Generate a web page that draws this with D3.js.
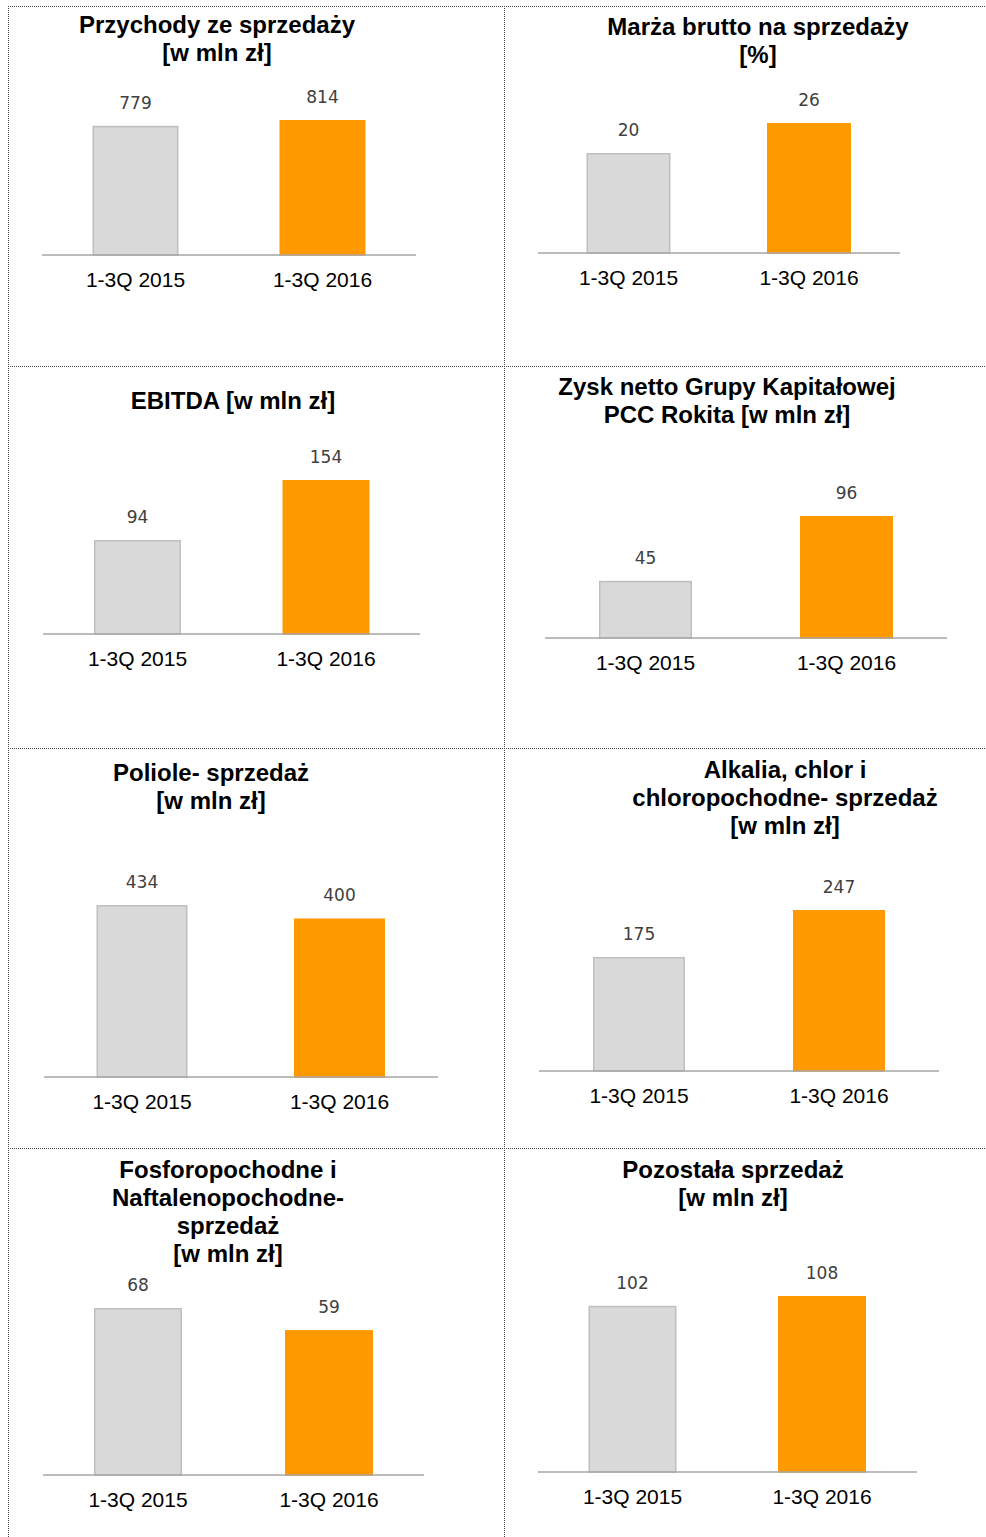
<!DOCTYPE html>
<html><head><meta charset="utf-8">
<script src="https://cdn.jsdelivr.net/npm/d3@7"></script>
<style>html,body{margin:0;padding:0;background:#fff;}</style>
</head><body>
<script>
const categories = ["1-3Q 2015", "1-3Q 2016"];
const titles = [
  ["Przychody ze sprzedaży", "[w mln zł]"],
  ["Marża brutto na sprzedaży", "[%]"],
  ["EBITDA [w mln zł]"],
  ["Zysk netto Grupy Kapitałowej", "PCC Rokita [w mln zł]"],
  ["Poliole- sprzedaż", "[w mln zł]"],
  ["Alkalia, chlor i", "chloropochodne- sprzedaż", "[w mln zł]"],
  ["Fosforopochodne i", "Naftalenopochodne-", "sprzedaż", "[w mln zł]"],
  ["Pozostała sprzedaż", "[w mln zł]"]
];
const values2015 = [779, 20, 94, 45, 434, 175, 68, 102];
const values2016 = [814, 26, 154, 96, 400, 247, 59, 108];

// layout per panel: axis x-range, bar centers, bar width, baseline y, top y of max bar, title center x, title first line y
const layout = [
  {ax:[42,416], c:[135.5,322.5], bw:86, base:255, top:120, tx:217, ty:25},
  {ax:[538,900], c:[628.5,809], bw:84, base:253, top:123, tx:758, ty:27},
  {ax:[43,420], c:[137.5,326], bw:87, base:634, top:480, tx:233, ty:401},
  {ax:[545,947], c:[645.5,846.5], bw:93, base:638, top:516, tx:727, ty:387},
  {ax:[44,438], c:[142,339.5], bw:91, base:1077, top:905, tx:211, ty:773},
  {ax:[539,939], c:[639,839], bw:92, base:1071, top:910, tx:785, ty:770},
  {ax:[43,424], c:[138,329], bw:88, base:1475, top:1308, tx:228, ty:1170},
  {ax:[538,917], c:[632.5,822], bw:88, base:1472, top:1296, tx:733, ty:1170}
];

const W = 986, H = 1537;
const svg = d3.select("body").append("svg").attr("width", W).attr("height", H);

// dotted grid
const grid = svg.append("g").attr("stroke", "#444").attr("stroke-width", 1).attr("stroke-dasharray", "1,1").attr("fill", "none");
[6.5, 366.5, 748.5, 1148.5].forEach(y => grid.append("line").attr("x1", 8).attr("x2", 986).attr("y1", y).attr("y2", y));
[8.5, 504.5].forEach(x => grid.append("line").attr("x1", x).attr("x2", x).attr("y1", 6).attr("y2", H));

const fillColors = ["#d9d9d9", "#ff9900"];
const strokeColors = ["#bfbfbf", "#ff9900"];

layout.forEach((L, i) => {
  const vals = [values2015[i], values2016[i]];
  const g = svg.append("g");
  const x = d3.scalePoint().domain(categories).range(L.c);
  const y = d3.scaleLinear().domain([0, d3.max(vals)]).range([L.base, L.top]);

  // title
  const t = g.append("text").attr("x", L.tx).attr("y", L.ty + 8)
    .attr("text-anchor", "middle").attr("font-family", "Liberation Sans, Arial, sans-serif")
    .attr("font-weight", "bold").attr("font-size", 24).attr("fill", "#000");
  titles[i].forEach((line, k) => t.append("tspan").attr("x", L.tx).attr("dy", k === 0 ? 0 : 28).text(line));

  // bars
  g.selectAll("rect").data(vals).join("rect")
    .attr("x", (d, k) => x(categories[k]) - L.bw / 2 + 0.75)
    .attr("width", L.bw - 1.5)
    .attr("y", d => y(d) + 0.75)
    .attr("height", d => L.base - y(d) - 0.75)
    .attr("fill", (d, k) => fillColors[k])
    .attr("stroke", (d, k) => strokeColors[k])
    .attr("stroke-width", 1.5);

  // axis line
  g.append("line").attr("x1", L.ax[0]).attr("x2", L.ax[1]).attr("y1", L.base).attr("y2", L.base)
    .attr("stroke", "#a6a6a6").attr("stroke-width", 1.5);

  // value labels
  g.selectAll("text.val").data(vals).join("text").attr("class", "val")
    .attr("x", (d, k) => x(categories[k]))
    .attr("y", d => y(d) - 17)
    .attr("text-anchor", "middle").attr("font-family", "DejaVu Sans, Verdana, sans-serif")
    .attr("font-size", 17).attr("fill", "#404040").text(d => d);

  // category labels
  g.selectAll("text.cat").data(categories).join("text").attr("class", "cat")
    .attr("x", d => x(d)).attr("y", L.base + 32)
    .attr("text-anchor", "middle").attr("font-family", "Liberation Sans, Arial, sans-serif")
    .attr("font-size", 21).attr("fill", "#000").text(d => d);
});
</script>
</body></html>
